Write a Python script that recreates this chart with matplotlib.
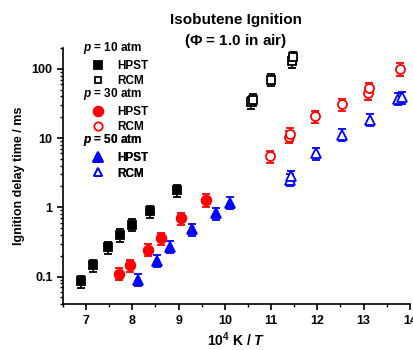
import numpy as np
import matplotlib
matplotlib.use('Agg')
import matplotlib.pyplot as plt
from matplotlib.lines import Line2D

plt.rcParams['font.family'] = ['Liberation Sans', 'DejaVu Sans']
plt.rcParams['font.weight'] = 'bold'
plt.rcParams['mathtext.fontset'] = 'custom'
plt.rcParams['mathtext.rm'] = 'Liberation Sans:bold'
plt.rcParams['mathtext.it'] = 'Liberation Sans:italic:bold'
plt.rcParams['mathtext.bf'] = 'Liberation Sans:bold'

# p = 10 atm
hpst10_x = [6.88, 7.15, 7.48, 7.74, 8.00, 8.38, 8.96]
hpst10_y = [0.085, 0.145, 0.265, 0.40, 0.56, 0.88, 1.75]
rcm10_x = [10.57, 10.61, 10.99, 11.45, 11.48]
rcm10_y = [33, 36, 70, 128, 148]

# p = 30 atm
hpst30_x = [7.72, 7.94, 8.33, 8.62, 9.06, 9.60]
hpst30_y = [0.11, 0.145, 0.245, 0.36, 0.69, 1.28]
rcm30_x = [10.98, 11.39, 11.40, 11.96, 12.53, 13.10, 13.12, 13.79]
rcm30_y = [5.5, 10.5, 11.5, 20.5, 31, 44, 52, 100]

# p = 50 atm
hpst50_x = [8.12, 8.53, 8.81, 9.30, 9.80, 10.12]
hpst50_y = [0.09, 0.17, 0.27, 0.48, 0.82, 1.17]
rcm50_x = [11.40, 11.42, 11.97, 12.54, 13.14, 13.74, 13.84]
rcm50_y = [2.5, 2.8, 6.0, 11.2, 18.4, 37, 39]

rel_err = 0.2

fig = plt.figure(figsize=(4.14, 3.5), dpi=100)
ax = fig.add_axes([0.152, 0.131, 0.838, 0.732])

def draw(x, y, marker, color, filled, ms):
    y = np.array(y)
    ax.errorbar(x, y, yerr=rel_err * y, fmt=marker, color=color, ecolor=color,
                mfc=color if filled else 'white', mec=color, mew=1.3,
                ms=ms, capsize=3, capthick=1.2, elinewidth=1.2, clip_on=False)

draw(hpst10_x, hpst10_y, 's', 'black', True, 6)
draw(rcm10_x, rcm10_y, 's', 'black', False, 5.5)
draw(hpst30_x, hpst30_y, 'o', 'red', True, 7)
draw(rcm30_x, rcm30_y, 'o', 'red', False, 6.5)
draw(hpst50_x, hpst50_y, '^', 'blue', True, 7)
draw(rcm50_x, rcm50_y, '^', 'blue', False, 7)

ax.set_yscale('log')
ax.set_xlim(6.5, 14)
ax.set_ylim(0.04, 200)
ax.set_xticks(range(7, 15))
ax.set_xticks(np.arange(6.5, 14.01, 0.5), minor=True)
ax.set_yticks([0.1, 1, 10, 100])
ax.set_yticklabels(['0.1', '1', '10', '100'])
ax.spines['top'].set_visible(False)
ax.spines['right'].set_visible(False)
ax.spines['left'].set_linewidth(1.2)
ax.spines['bottom'].set_linewidth(1.2)
ax.tick_params(which='major', length=4, width=1.2, labelsize=9, direction='out')
ax.tick_params(which='minor', length=2.5, width=1.0, direction='out')

ax.set_xlabel('10$^{4}$ K / $\\mathit{T}$', fontsize=10, fontweight='bold', labelpad=3)
ax.set_ylabel('Ignition delay time / ms', fontsize=9, fontweight='bold', labelpad=5)
fig.text(0.570, 0.91, 'Isobutene Ignition\n($\\Phi$ = 1.0 in air)', fontsize=11,
         fontweight='bold', ha='center', va='center', linespacing=1.45)

groups = [('10', 's', 'black', 6), ('30', 'o', 'red', 7), ('50', '^', 'blue', 7)]
tops = [1.03, 0.85, 0.67]
for (p, m, c, ms), top in zip(groups, tops):
    handles = [Line2D([], [], ls='none', marker=m, color=c, mfc=c, mec=c, ms=ms, mew=1.3),
               Line2D([], [], ls='none', marker=m, color=c, mfc='white', mec=c, ms=ms - 1, mew=1.3)]
    leg = ax.legend(handles, ['HPST', 'RCM'], title='$p$ = %s atm' % p,
                    loc='upper left', bbox_to_anchor=(0.057, top), frameon=False,
                    fontsize=8.5, title_fontsize=8.5, handlelength=2.6,
                    handletextpad=0.3, labelspacing=0.3, borderpad=0,
                    borderaxespad=0)
    leg._legend_box.align = 'left'
    ax.add_artist(leg)

fig.savefig('out.png', dpi=100)
